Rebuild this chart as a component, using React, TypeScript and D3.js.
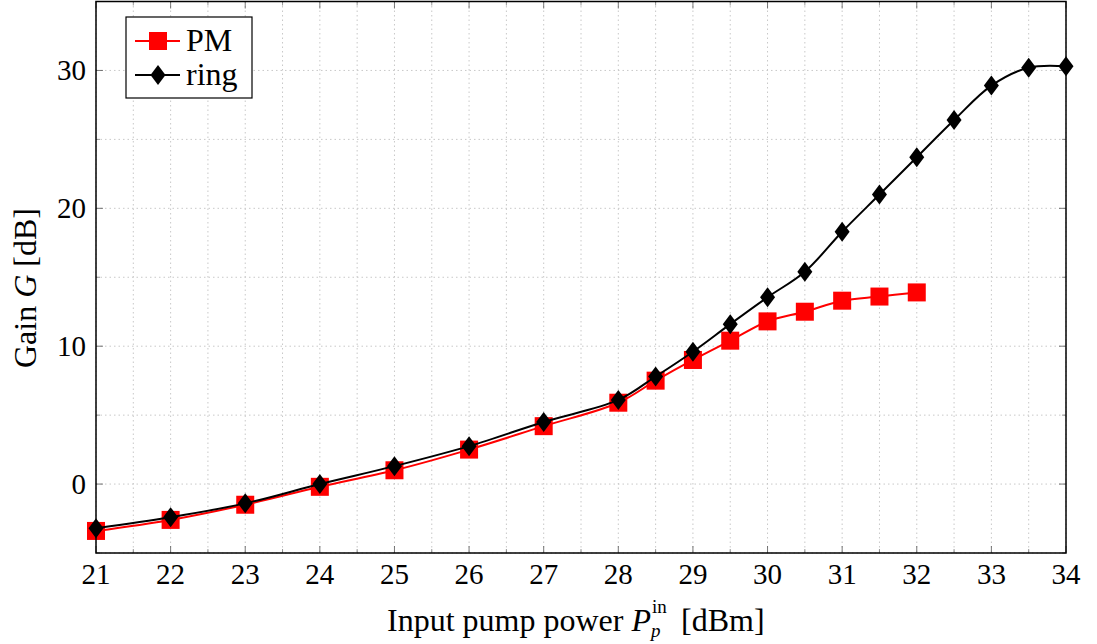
import React from "react";
import * as d3 from "d3";

const xValsPM = [21, 22, 23, 24, 25, 26, 27, 28, 28.5, 29, 29.5, 30, 30.5, 31, 31.5, 32];
const gainPM = [-3.4, -2.6, -1.5, -0.2, 1.0, 2.5, 4.2, 5.9, 7.5, 9.0, 10.4, 11.8, 12.5, 13.3, 13.6, 13.9];
const xValsRing = [21, 22, 23, 24, 25, 26, 27, 28, 28.5, 29, 29.5, 30, 30.5, 31, 31.5, 32, 32.5, 33, 33.5, 34];
const gainRing = [-3.2, -2.4, -1.4, 0.0, 1.3, 2.75, 4.5, 6.1, 7.8, 9.6, 11.6, 13.55, 15.4, 18.3, 21.0, 23.7, 26.4, 28.9, 30.2, 30.3];
const xTicks = [21, 22, 23, 24, 25, 26, 27, 28, 29, 30, 31, 32, 33, 34];
const yTicks = [0, 10, 20, 30];
const xMinor = d3.range(21.5, 34, 1);
const yMinor = [-5, 5, 15, 25, 35];
const seriesNames = ["PM", "ring"];

const W = 1097, H = 644;
const L = 96, R = 1066, T = 1.5, B = 553;
const FONT = "'Liberation Serif', 'DejaVu Serif', serif";
const FS = 29;
const LFS = 32;

export default function App() {
  const x = d3.scaleLinear().domain([21, 34]).range([L, R]);
  const y = d3.scaleLinear().domain([-5, 35]).range([B, T]);
  const pmPts = xValsPM.map((v, i) => [x(v), y(gainPM[i])] as [number, number]);
  const ringPts = xValsRing.map((v, i) => [x(v), y(gainRing[i])] as [number, number]);
  const lineGen = d3.line().curve(d3.curveCatmullRom.alpha(0.5));
  const grid = "#c8c8c8";
  const diamond = (cx: number, cy: number, k: string | number) => (
    <path key={k} d={`M${cx},${cy - 10}L${cx + 7.5},${cy}L${cx},${cy + 10}L${cx - 7.5},${cy}Z`} fill="#000" />
  );
  const square = (cx: number, cy: number, k: string | number) => (
    <rect key={k} x={cx - 9} y={cy - 9} width={18} height={18} fill="#ff0000" />
  );
  return (
    <svg width={W} height={H} style={{ position: "absolute", left: 0, top: 0 }} fontFamily={FONT}>
      <rect x={0} y={0} width={W} height={H} fill="#fff" />
      {[...xTicks, ...xMinor].map((v, i) => (
        <line key={"gx" + i} x1={x(v)} x2={x(v)} y1={T} y2={B} stroke={grid} strokeWidth={1} strokeDasharray="1.5 3" />
      ))}
      {[...yTicks, ...yMinor].map((v, i) => (
        <line key={"gy" + i} x1={L} x2={R} y1={y(v)} y2={y(v)} stroke={grid} strokeWidth={1} strokeDasharray="1.5 3" />
      ))}
      {xTicks.map((v, i) => (
        <g key={"xt" + i} stroke="#555" strokeWidth={0.8}>
          <line x1={x(v)} x2={x(v)} y1={B} y2={B - 7} />
          <line x1={x(v)} x2={x(v)} y1={T} y2={T + 7} />
        </g>
      ))}
      {xMinor.map((v, i) => (
        <g key={"xm" + i} stroke="#555" strokeWidth={0.6}>
          <line x1={x(v)} x2={x(v)} y1={B} y2={B - 4} />
          <line x1={x(v)} x2={x(v)} y1={T} y2={T + 4} />
        </g>
      ))}
      {yTicks.map((v, i) => (
        <g key={"yt" + i} stroke="#555" strokeWidth={0.8}>
          <line x1={L} x2={L + 7} y1={y(v)} y2={y(v)} />
          <line x1={R} x2={R - 7} y1={y(v)} y2={y(v)} />
        </g>
      ))}
      {yMinor.map((v, i) => (
        <g key={"ym" + i} stroke="#555" strokeWidth={0.6}>
          <line x1={L} x2={L + 4} y1={y(v)} y2={y(v)} />
          <line x1={R} x2={R - 4} y1={y(v)} y2={y(v)} />
        </g>
      ))}
      <path d={lineGen(pmPts) || ""} fill="none" stroke="#ff0000" strokeWidth={2} />
      {pmPts.map((p, i) => square(p[0], p[1], "s" + i))}
      <path d={lineGen(ringPts) || ""} fill="none" stroke="#000" strokeWidth={2} />
      {ringPts.map((p, i) => diamond(p[0], p[1], "d" + i))}
      <rect x={L} y={T} width={R - L} height={B - T} fill="none" stroke="#000" strokeWidth={1.5} />
      {xTicks.map((v, i) => (
        <text key={"xl" + i} x={x(v)} y={584} textAnchor="middle" fontSize={FS} fill="#000">{v}</text>
      ))}
      {yTicks.map((v, i) => (
        <text key={"yl" + i} x={86} y={y(v) + 10} textAnchor="end" fontSize={FS} fill="#000">{v}</text>
      ))}
      <text x={651} y={631} textAnchor="end" fontSize={LFS} fill="#000">
        Input pump power <tspan fontStyle="italic">P</tspan>
      </text>
      <text x={651} y={637} fontSize={19} fontStyle="italic" fill="#000">p</text>
      <text x={652} y={613} fontSize={19} fill="#000">in</text>
      <text x={681} y={631} fontSize={LFS} fill="#000">[dBm]</text>
      <text transform={`translate(36,288) rotate(-90)`} textAnchor="middle" fontSize={LFS} fill="#000">
        Gain <tspan fontStyle="italic">G</tspan> [dB]
      </text>
      <rect x={126} y={17} width={126} height={81} fill="#fff" stroke="#000" strokeWidth={1.2} />
      <line x1={135} x2={180} y1={41} y2={41} stroke="#ff0000" strokeWidth={2} />
      {square(158, 41, "ls")}
      <text x={186} y={51} fontSize={LFS} fill="#000">{seriesNames[0]}</text>
      <line x1={135} x2={180} y1={75} y2={75} stroke="#000" strokeWidth={2} />
      {diamond(158, 75, "ld")}
      <text x={186} y={85} fontSize={LFS} fill="#000">{seriesNames[1]}</text>
    </svg>
  );
}
